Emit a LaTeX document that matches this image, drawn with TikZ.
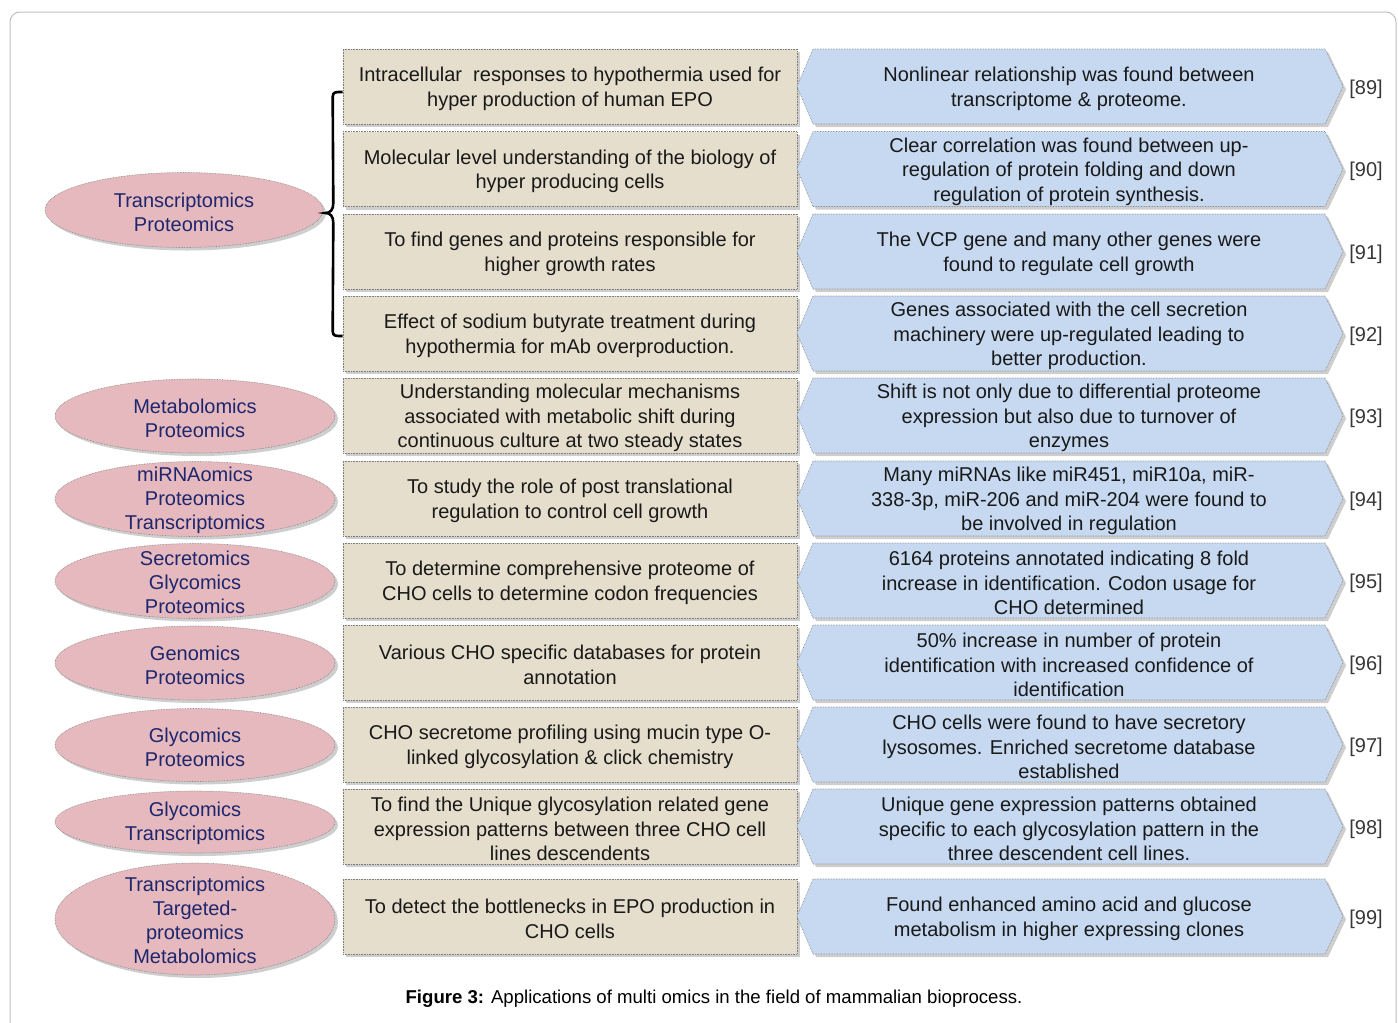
\documentclass[tikz,border=0pt]{standalone}
\usepackage{fontspec}
\setmainfont{Liberation Sans}
\usetikzlibrary{shapes.geometric,shadows,calc}
\definecolor{tanfill}{RGB}{229,222,205}
\definecolor{bluefill}{RGB}{198,217,240}
\definecolor{pinkfill}{RGB}{229,185,189}
\definecolor{navytext}{RGB}{30,38,110}
\definecolor{edgegray}{RGB}{125,125,125}
\definecolor{framegray}{RGB}{190,190,190}
\definecolor{reftext}{RGB}{55,55,55}
\newcommand\omicsrow[5]{%
  \node[tanbox] (b#1) at (570,#2) {};
  \node[boxtxt] (t#1) at (570,#2) {#3};
  \path[bluebox] (797,#2) -- (813,{#2-37.5}) -- (1325,{#2-37.5}) -- (1343,#2)
     -- (1325,{#2+37.5}) -- (813,{#2+37.5}) -- cycle;
  \node[boxtxt] (r#1) at (1069,#2) {#4};
  \node[reftxt] (f#1) at (1366,#2) {#5};
}
\begin{document}
\begin{tikzpicture}[x=1pt,y=-1pt,
  shade/.style={drop shadow={shadow xshift=3pt,shadow yshift=-3pt,opacity=0.38}},
  txt/.style={font=\fontsize{20}{24.5}\selectfont, align=center, inner sep=0pt, yshift=-2.5pt},
  tanbox/.style={rectangle, draw=edgegray, densely dotted, line width=0.6pt,
     fill=tanfill, minimum width=454pt, minimum height=75pt, inner sep=0pt, shade},
  boxtxt/.style={txt, text=black!90},
  bluebox/.style={draw=edgegray, densely dotted, line width=0.6pt, fill=bluefill, shade},
  reftxt/.style={txt, text=reftext},
  pinkell/.style={ellipse, draw=edgegray, densely dotted, line width=0.6pt,
     fill=pinkfill, inner sep=0pt, shade},
  elltxt/.style={txt, font=\fontsize{20}{24}\selectfont, text=navytext},
  bracketline/.style={line width=2.6pt, black},
  framebox/.style={draw=framegray, line width=1pt, rounded corners=10pt}
]
\clip (0,0) rectangle (1398,1023);
\fill[white] (0,0) rectangle (1398,1023);
\draw[framebox] (10,12) rectangle (1396,1045);

% ellipses
\node[pinkell, minimum width=278pt, minimum height=75pt] (e1) at (184,210) {};
\node[elltxt] (e1t) at (e1) {Transcriptomics\\Proteomics};
\node[pinkell, minimum width=280pt, minimum height=74pt] (e2) at (195,416) {};
\node[elltxt] (e2t) at (e2) {Metabolomics\\Proteomics};
\node[pinkell, minimum width=280pt, minimum height=75pt] (e3) at (195,499) {};
\node[elltxt] (e3t) at (195,498) {miRNAomics\\Proteomics\\Transcriptomics};
\node[pinkell, minimum width=280pt, minimum height=75pt] (e4) at (195,581) {};
\node[elltxt] (e4t) at (195,580) {Secretomics\\Glycomics\\Proteomics};
\node[pinkell, minimum width=280pt, minimum height=74pt] (e5) at (195,663) {};
\node[elltxt] (e5t) at (e5) {Genomics\\Proteomics};
\node[pinkell, minimum width=280pt, minimum height=73pt] (e6) at (195,745) {};
\node[elltxt] (e6t) at (e6) {Glycomics\\Proteomics};
\node[pinkell, minimum width=280pt, minimum height=62pt] (e7) at (195,822) {};
\node[elltxt] (e7t) at (195,821) {Glycomics\\Transcriptomics};
\node[pinkell, minimum width=280pt, minimum height=112pt] (e8) at (195,919) {};
\node[elltxt] (e8t) at (195,918) {Transcriptomics\\Targeted-\\proteomics\\Metabolomics};

% rows
\omicsrow{1}{86.5}{Intracellular\ \ responses to hypothermia used for\\hyper production of human EPO}{Nonlinear relationship was found between\\transcriptome \& proteome.}{[89]}
\omicsrow{2}{169}{Molecular level understanding of the biology of\\hyper producing cells}{Clear correlation was found between up-\\regulation of protein folding and down\\regulation of protein synthesis.}{[90]}
\omicsrow{3}{251.5}{To find genes and proteins responsible for\\higher growth rates}{The VCP gene and many other genes were\\found to regulate cell growth}{[91]}
\omicsrow{4}{333.5}{Effect of sodium butyrate treatment during\\hypothermia for mAb overproduction.}{Genes associated with the cell secretion\\machinery were up-regulated leading to\\better production.}{[92]}
\omicsrow{5}{415.5}{Understanding molecular mechanisms\\associated with metabolic shift during\\continuous culture at two steady states}{Shift is not only due to differential proteome\\expression but also due to turnover of\\enzymes}{[93]}
\omicsrow{6}{498.5}{To study the role of post translational\\regulation to control cell growth}{Many miRNAs like miR451, miR10a, miR-\\338-3p, miR-206 and miR-204 were found to\\be involved in regulation}{[94]}
\omicsrow{7}{580.5}{To determine comprehensive proteome of\\CHO cells to determine codon frequencies}{6164 proteins annotated indicating 8 fold\\increase in identification. Codon usage for\\CHO determined}{[95]}
\omicsrow{8}{662.5}{Various CHO specific databases for protein\\annotation}{50\% increase in number of protein\\identification with increased confidence of\\identification}{[96]}
\omicsrow{9}{744.5}{CHO secretome profiling using mucin type O-\\linked glycosylation \& click chemistry}{CHO cells were found to have secretory\\lysosomes. Enriched secretome database\\established}{[97]}
\omicsrow{10}{826.5}{To find the Unique glycosylation related gene\\expression patterns between three CHO cell\\lines descendents}{Unique gene expression patterns obtained\\specific to each glycosylation pattern in the\\three descendent cell lines.}{[98]}
\omicsrow{11}{916.5}{To detect the bottlenecks in EPO production in\\CHO cells}{Found enhanced amino acid and glucose\\metabolism in higher expressing clones}{[99]}

% bracket
\coordinate (bt) at ($(b1.west)+(0,5.5)$);
\coordinate (bb) at ($(b4.west)+(0,2.5)$);
\coordinate (tip) at ($(e1.east)+(2,3)$);
\draw[bracketline] (bt) -- ($(bt)+(-4,0)$)
  .. controls ($(bt)+(-10,0)$) and ($(bt)+(-10,2)$) .. ($(bt)+(-10,8)$)
  -- ($(tip)+(8,-10)$)
  .. controls ($(tip)+(8,-3)$) and ($(tip)+(5,0)$) .. (tip)
  .. controls ($(tip)+(5,0)$) and ($(tip)+(8,3)$) .. ($(tip)+(8,10)$)
  -- ($(bb)+(-10,-8)$)
  .. controls ($(bb)+(-10,-2)$) and ($(bb)+(-10,0)$) .. ($(bb)+(-4,0)$)
  -- (bb);

% caption
\node[font=\fontsize{18.6}{22}\selectfont, inner sep=0pt] (cap) at (714,999)
  {\textbf{Figure 3:} Applications of multi omics in the field of mammalian bioprocess.};
\end{tikzpicture}
\end{document}
